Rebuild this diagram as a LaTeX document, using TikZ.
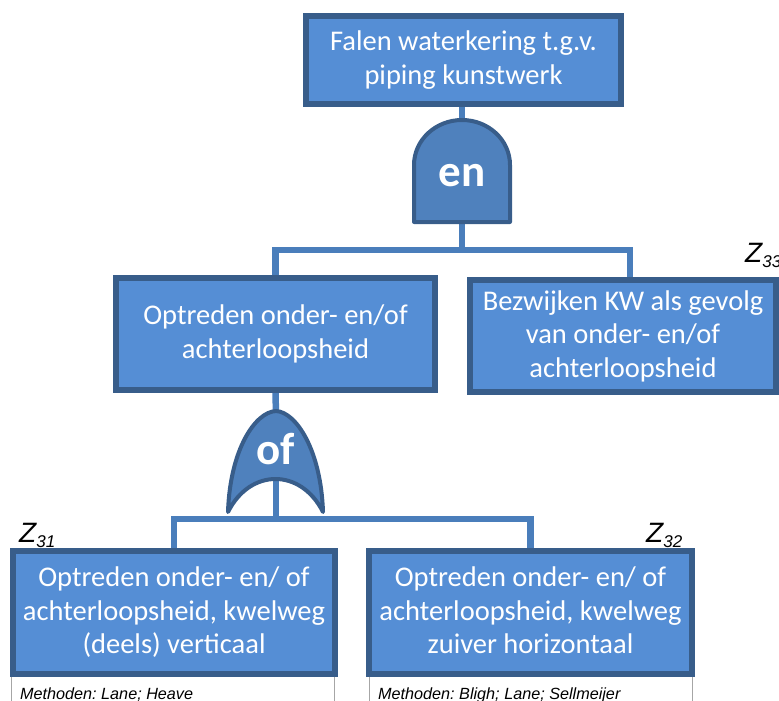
\documentclass[tikz,border=0pt]{standalone}
\usepackage{fontspec}
\setmainfont{Carlito}
\newfontfamily\arialfont{Liberation Sans}
\usetikzlibrary{backgrounds}
\definecolor{boxfill}{HTML}{558ED5}
\definecolor{boxborder}{HTML}{385D8A}
\definecolor{connblue}{HTML}{4A7EBB}
\definecolor{gatefill}{HTML}{4F81BD}
\definecolor{methgray}{HTML}{A6A6A6}
\frenchspacing
\begin{document}
\begin{tikzpicture}[x=1pt,y=-1pt,
  box/.style={draw=boxborder, fill=boxfill, line width=6pt, text=white, align=center, inner sep=0pt, font=\fontsize{28.5}{33.5}\selectfont},
  conn/.style={draw=connblue, line width=6.5pt},
  gate/.style={draw=boxborder, fill=gatefill, line width=4pt, line join=round},
  gatetext/.style={text=white, inner sep=0pt, font=\fontsize{45}{45}\selectfont\bfseries},
  zlab/.style={font=\arialfont\itshape\fontsize{28}{28}\selectfont, inner sep=0pt, anchor=base west},
  methbox/.style={draw=methgray, fill=white, line width=0.8pt},
  meth/.style={font=\arialfont\itshape\fontsize{16.2}{16.2}\selectfont, inner sep=0pt, anchor=base west}]
\useasboundingbox (0,0) rectangle (779,701);
\clip (0,0) rectangle (779,701);

% Methoden boxes (behind the blue boxes)
\draw[methbox] (11,673) rectangle (334,712);
\draw[methbox] (369,673) rectangle (692,712);
\node[meth] (m1) at (20,699) {Methoden: Lane; Heave};
\node[meth] (m2) at (378,699) {Methoden: Bligh; Lane; Sellmeijer};

% boxes
\node[box, minimum width=315pt, minimum height=88pt] (top) at (463.5,60) {Falen waterkering t.g.v.\\piping kunstwerk};
\node[box, minimum width=319pt, minimum height=112pt] (ml) at (275.5,334) {Optreden onder- en/of\\achterloopsheid};
\node[box, minimum width=306pt, minimum height=112pt] (rb) at (623,336) {Bezwijken KW als gevolg\\van onder- en/of\\achterloopsheid};
\node[box, minimum width=322pt, minimum height=123pt] (bl) at (174,612.5) {Optreden onder- en/ of\\achterloopsheid, kwelweg\\(deels) verticaal\rule[-4pt]{0pt}{0pt}};
\node[box, minimum width=323pt, minimum height=123pt] (br) at (530.5,612.5) {Optreden onder- en/ of\\achterloopsheid, kwelweg\\zuiver horizontaal\rule[-4pt]{0pt}{0pt}};

% gates
\path[gate] (414,222) -- (414,165) arc[start angle=180, end angle=0, x radius=48pt, y radius=45pt] -- (510,222) -- cycle;
\node[gatetext] (en) at (462,175.5) {en};
\path[gate] (228,512) .. controls (230,450) and (255,412) .. (276,411)
  .. controls (296,412) and (321,450) .. (323,512)
  .. controls (301,468) and (250,468) .. (228,512) -- cycle;
\node[gatetext] (of) at (276,449) {of};

\coordinate (enTop) at (462,122);
\coordinate (enBot) at (462,220);
\coordinate (ofTop) at (276,414);
\coordinate (ofBot) at (276,478);
\coordinate (j1) at (462,250);
\coordinate (j2) at (276,519);

% Z labels
\node[zlab] (z31) at (19,542) {Z\raisebox{-5pt}{\fontsize{17}{17}\selectfont 31}};
\node[zlab] (z32) at (646,542) {Z\raisebox{-5pt}{\fontsize{17}{17}\selectfont 32}};
\node[zlab] (z33) at (745,262) {Z\raisebox{-5pt}{\fontsize{17}{17}\selectfont 33}};

% connectors
\begin{pgfonlayer}{background}
\draw[conn] (enTop |- top.south) -- (enTop);
\draw[conn] (enBot) -- (j1);
\draw[conn] (ml.north) |- (j1) -| ([xshift=7pt]rb.north);
\draw[conn] (ml.south) -- (ofTop);
\draw[conn] (ofBot) -- (j2);
\draw[conn] (bl.north) |- (j2) -| (br.north);
\end{pgfonlayer}
\end{tikzpicture}
\end{document}
